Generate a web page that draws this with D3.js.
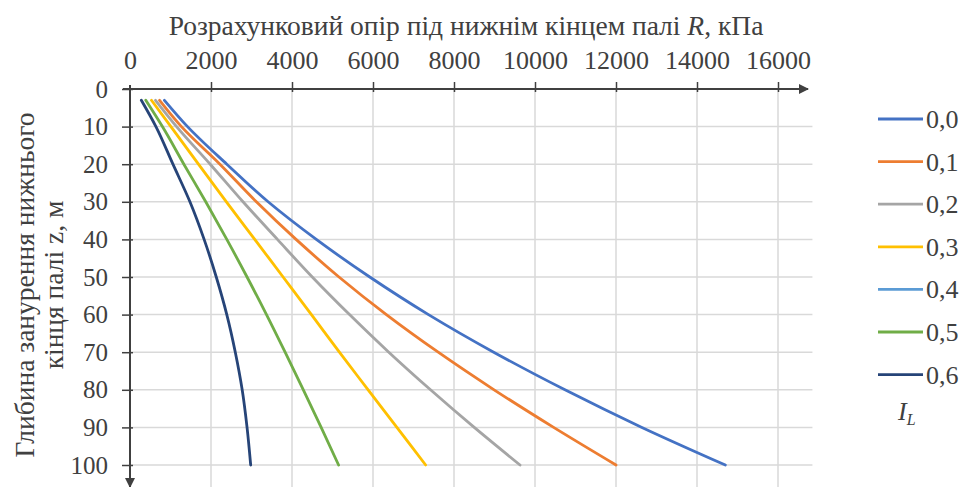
<!DOCTYPE html>
<html>
<head>
<meta charset="utf-8">
<script src="https://cdn.jsdelivr.net/npm/d3@7"></script>
<style>
  html, body { margin: 0; padding: 0; background: #fff; }
  svg { display: block; }
  svg text { font-family: "Liberation Serif", "Times New Roman", Tinos, "Noto Serif", "DejaVu Serif", serif; fill: #404040; }
</style>
</head>
<body>
<svg id="chart" width="966" height="487"></svg>
<script>
// Pile tip design resistance R (kPa) versus embedment depth z (m) for clay consistency index I_L
const depths = [3, 10, 20, 30, 40, 50, 60, 70, 80, 90, 100];
const il00 = [850, 1420, 2390, 3410, 4600, 5920, 7370, 8980, 10740, 12640, 14700];
const il01 = [730, 1270, 2220, 3120, 4100, 5160, 6330, 7610, 8990, 10460, 12000];
const il02 = [630, 1150, 1980, 2790, 3640, 4500, 5420, 6390, 7420, 8500, 9630];
const il03 = [530, 1010, 1690, 2380, 3080, 3780, 4480, 5170, 5880, 6590, 7300];
const il04 = [];
const il05 = [390, 800, 1330, 1870, 2390, 2890, 3370, 3830, 4280, 4720, 5150];
const il06 = [280, 640, 1060, 1480, 1830, 2130, 2390, 2600, 2770, 2890, 2980];

const seriesNames = ["0,0", "0,1", "0,2", "0,3", "0,4", "0,5", "0,6"];
const seriesValues = [il00, il01, il02, il03, il04, il05, il06];
const seriesColors = ["#4472C4", "#ED7D31", "#A5A5A5", "#FFC000", "#5B9BD5", "#70AD47", "#264478"];

const xTicks = [0, 2000, 4000, 6000, 8000, 10000, 12000, 14000, 16000];
const yTicks = [0, 10, 20, 30, 40, 50, 60, 70, 80, 90, 100];

const xTitle = "Розрахунковий опір під нижнім кінцем палі ";
const xTitleVar = "R";
const xTitleUnit = ", кПа";
const yTitleLines = ["Глибина занурення нижнього", "кінця палі z, м"];

const fontStack = '"Liberation Serif", "Times New Roman", Tinos, "Noto Serif", "DejaVu Serif", serif';
const tickFont = 26;
const titleFont = 27.5;
const svg = d3.select("#chart");

const x = d3.scaleLinear().domain([0, 16000]).range([130, 778]);
const y = d3.scaleLinear().domain([0, 100]).range([89, 465]);

// plot area reaches a bit past the last ticks
const plotRight = x(16850);
const plotBottom = y(106);

// gridlines
const grid = svg.append("g").attr("stroke", "#d9d9d9").attr("stroke-width", 1.5);
grid.selectAll("line.v").data(xTicks.filter(d => d > 0)).join("line")
  .attr("x1", d => x(d)).attr("x2", d => x(d))
  .attr("y1", y(0)).attr("y2", plotBottom);
grid.selectAll("line.h").data(yTicks.filter(d => d > 0)).join("line")
  .attr("x1", x(0)).attr("x2", plotRight)
  .attr("y1", d => y(d)).attr("y2", d => y(d));

// curves
const line = d3.line()
  .x(d => x(d[0]))
  .y(d => y(d[1]))
  .curve(d3.curveMonotoneY);

const curves = svg.append("g").attr("fill", "none").attr("stroke-width", 2.8).attr("stroke-linecap", "round");
seriesValues.forEach((vals, i) => {
  if (!vals.length) return;
  const pts = vals.map((v, k) => [v, depths[k]]);
  curves.append("path").attr("d", line(pts)).attr("stroke", seriesColors[i]);
});

// axes
const axisColor = "#404040";
const xAxis = svg.append("g")
  .attr("transform", `translate(0,${y(0)})`)
  .call(d3.axisTop(x).tickValues(xTicks).tickFormat(d3.format("d")).tickSize(7).tickPadding(13));
xAxis.attr("font-family", fontStack).attr("font-size", tickFont);
xAxis.select(".domain").remove();
xAxis.selectAll(".tick line").attr("y1", 3).attr("stroke", axisColor).attr("stroke-width", 1.5);
xAxis.selectAll(".tick text").attr("fill", axisColor);
xAxis.selectAll(".tick").filter(d => d === 0).select("line").remove();

const yAxis = svg.append("g")
  .attr("transform", `translate(${x(0)},0)`)
  .call(d3.axisLeft(y).tickValues(yTicks).tickFormat(d3.format("d")).tickSize(8).tickPadding(14));
yAxis.attr("font-family", fontStack).attr("font-size", tickFont - 1);
yAxis.select(".domain").remove();
yAxis.selectAll(".tick line").attr("x1", 3).attr("stroke", axisColor).attr("stroke-width", 1.5);
yAxis.selectAll(".tick text").attr("fill", axisColor);

// axis lines with arrows
const defs = svg.append("defs");
defs.append("marker").attr("id", "arrow")
  .attr("viewBox", "0 0 10 10").attr("refX", 9).attr("refY", 5)
  .attr("markerWidth", 12).attr("markerHeight", 10).attr("markerUnits", "userSpaceOnUse")
  .attr("orient", "auto")
  .append("path").attr("d", "M0,0 L10,5 L0,10 Z").attr("fill", axisColor);

svg.append("line")
  .attr("x1", x(0) - 7).attr("x2", 808).attr("y1", y(0)).attr("y2", y(0))
  .attr("stroke", axisColor).attr("stroke-width", 2).attr("marker-end", "url(#arrow)");
svg.append("line")
  .attr("x1", x(0)).attr("x2", x(0)).attr("y1", y(0) - 4).attr("y2", 487)
  .attr("stroke", axisColor).attr("stroke-width", 2).attr("marker-end", "url(#arrow)");

// axis titles
const xt = svg.append("text")
  .attr("x", 466).attr("y", 35)
  .attr("text-anchor", "middle").attr("font-size", titleFont);
xt.append("tspan").text(xTitle);
xt.append("tspan").attr("font-style", "italic").text(xTitleVar);
xt.append("tspan").text(xTitleUnit);

yTitleLines.forEach((t, i) => {
  svg.append("text")
    .attr("transform", `translate(${34 + i * 29},285) rotate(-90)`)
    .attr("text-anchor", "middle").attr("font-size", titleFont)
    .text(t);
});

// legend
const legend = svg.append("g").attr("transform", "translate(878,119)");
seriesNames.forEach((name, i) => {
  const g = legend.append("g").attr("transform", `translate(0,${i * 42.6})`);
  g.append("line").attr("x1", 0).attr("x2", 45).attr("y1", 0).attr("y2", 0)
    .attr("stroke", seriesColors[i]).attr("stroke-width", 2.8);
  g.append("text").attr("x", 48).attr("y", 9).attr("font-size", tickFont).text(name);
});
const lt = svg.append("text").attr("x", 898).attr("y", 420).attr("font-size", tickFont).attr("font-style", "italic");
lt.append("tspan").text("I");
lt.append("tspan").attr("font-size", 16).attr("dy", 5).text("L");
</script>
</body>
</html>
